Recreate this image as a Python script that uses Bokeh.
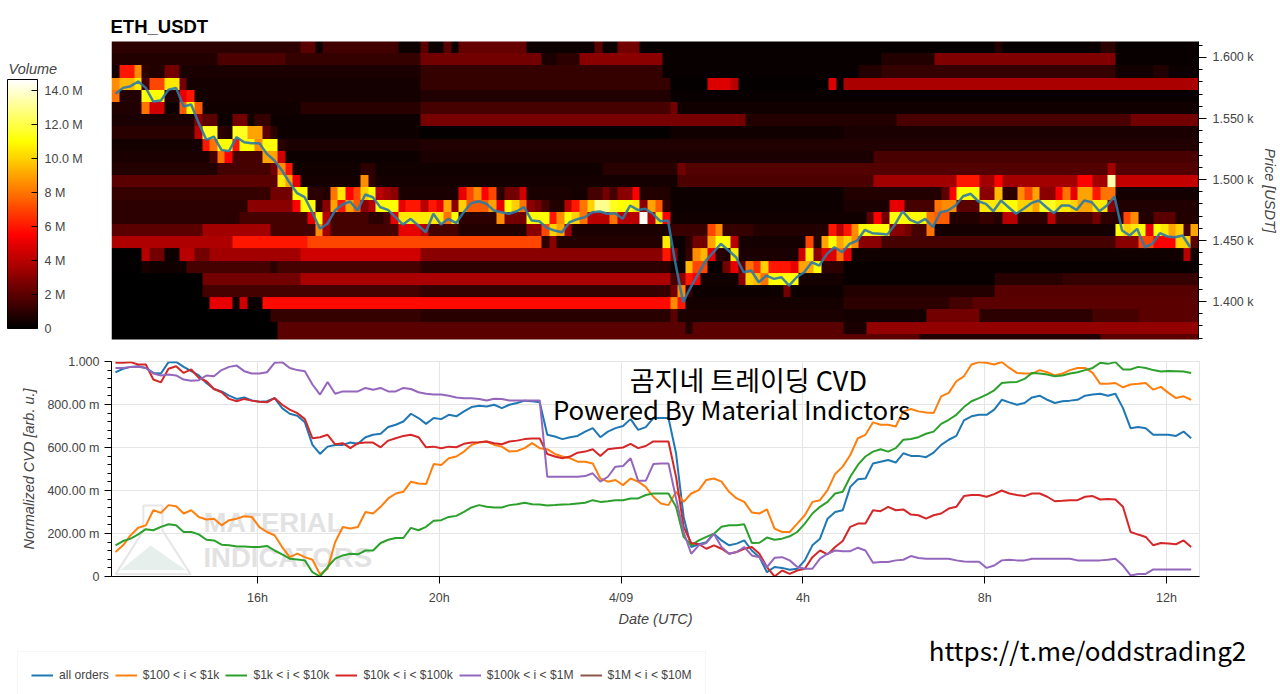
import numpy as np
from bokeh.embed import file_html
from bokeh.layouts import column, row
from bokeh.models import ColorBar, FixedTicker, Label, Legend, LegendItem, LinearColorMapper
from bokeh.plotting import figure
from bokeh.resources import INLINE

FONT = "Liberation Sans"
TEXT_COLOUR = "#444444"

# hours since 4/08 00:00
TICK_HOURS = [16, 20, 24, 28, 32, 36]
TICK_LABELS = ["16h", "20h", "4/09", "4h", "8h", "12h"]
X_START = 12.788
X_END = 36.726
FIRST_POINT = 12.876

PRICE_TICKS = [1400, 1450, 1500, 1550, 1600]
PRICE_LABELS = ["1.400 k", "1.450 k", "1.500 k", "1.550 k", "1.600 k"]
CVD_TICKS = [0, 0.2, 0.4, 0.6, 0.8, 1.0]
CVD_LABELS = ["0", "200.00 m", "400.00 m", "600.00 m", "800.00 m", "1.000"]
VOLUME_TICKS = [0, 2, 4, 6, 8, 10, 12, 14]
VOLUME_LABELS = ["0", "2 M", "4 M", "6 M", "8 M", "10.0 M", "12.0 M", "14.0 M"]

# order book volume in millions, one row per 10 USDT bin, top bin first.
# each row is a list of (first 10 minute column, volume) runs
vol_1608 = [(0, 1.0), (25, 2.0), (27, 0.3), (28, 1.4), (38, 0.3), (41, 2.0), (42, 0.3), (44, 2.0), (45, 0.3), (46, 2.2), (55, 0.3), (64, 2.0), (65, 0.3), (67, 2.5), (70, 0.2), (117, 0.8), (118, 0.2), (131, 1.0), (133, 0.2)]
vol_1598 = [(0, 0.8), (14, 1.7), (23, 1.2), (41, 2.5), (57, 0.6), (59, 1.0), (62, 3.0), (73, 0.2), (102, 0.8), (109, 2.8), (133, 0.2)]
vol_1588 = [(0, 0.5), (1, 6), (3, 8.5), (4, 1), (5, 0.8), (7, 2.5), (9, 0.6), (41, 1.2), (73, 0.2), (99, 0.8), (102, 1.2), (133, 0.4), (138, 0.8), (140, 0.3)]
vol_1578 = [(0, 8.5), (1, 9.5), (3, 10.5), (4, 1.5), (5, 7), (7, 10.5), (9, 2.5), (10, 0.5), (41, 1.2), (74, 0.15), (79, 4.8), (82, 4.0), (83, 0.15), (95, 4.8), (96, 0.1), (97, 3.7)]
vol_1568 = [(0, 8), (1, 0.8), (4, 11), (7, 0.8), (9, 5), (10, 6), (11, 0.5), (41, 0.7), (74, 0.2)]
vol_1558 = [(0, 0.7), (4, 8), (5, 4.5), (7, 0.3), (9, 7.5), (10, 10.8), (11, 7.5), (12, 0.4), (25, 0.9), (41, 1.5), (74, 2.5), (75, 0.4)]
vol_1548 = [(0, 0.6), (11, 3), (12, 2), (14, 0.3), (16, 2.5), (18, 0.5), (19, 1.2), (21, 0.3), (41, 2.6), (84, 0.8), (104, 1.6), (135, 2.5)]
vol_1538 = [(0, 0.9), (11, 4), (12, 11.5), (14, 1), (15, 0.8), (16, 11.5), (18, 9), (20, 2), (21, 1), (22, 0.3), (41, 0.15), (74, 0.4), (97, 0.6)]
vol_1528 = [(0, 0.5), (12, 6), (13, 8), (14, 11), (16, 6), (17, 11), (19, 8.5), (20, 11), (22, 1), (23, 0.6), (41, 0.7)]
vol_1518 = [(0, 0.6), (13, 1.5), (14, 8), (15, 5.5), (16, 1.5), (20, 9), (22, 4.5), (23, 0.3), (41, 0.6), (101, 1.6)]
vol_1508 = [(0, 0.8), (14, 1.5), (21, 2.5), (22, 8.5), (23, 6), (24, 0.4), (33, 1), (35, 0.4), (65, 0.9), (75, 2.5), (76, 1.8), (132, 3.5), (133, 1.8)]
vol_1498 = [(0, 2), (22, 10.5), (23, 9), (24, 5), (25, 0.5), (33, 8.5), (34, 1), (35, 0.5), (75, 1.7), (101, 3.5), (112, 6), (115, 3.5), (117, 5.5), (118, 3.5), (128, 5.5), (130, 3.5), (132, 13.5), (133, 4.2)]
vol_1488 = [(0, 1.2), (21, 2.5), (24, 11), (26, 1), (28, 0.8), (29, 8), (30, 10.5), (31, 5.5), (32, 7), (33, 10), (34, 11), (35, 4), (36, 3.5), (37, 3), (38, 0.6), (46, 5), (47, 7), (48, 8.5), (49, 5.5), (50, 7), (51, 1), (52, 2.5), (54, 4.5), (55, 0.6), (61, 0.5), (63, 1.5), (65, 2.5), (66, 1.5), (67, 3), (69, 5.5), (70, 0.8), (74, 0.3), (97, 0.8), (110, 2), (111, 5.5), (112, 11), (115, 3), (117, 9.5), (118, 1), (120, 8.5), (121, 7), (122, 9), (123, 3), (125, 5.5), (126, 8), (127, 5), (128, 9), (130, 6), (131, 8), (133, 0.5)]
vol_1478 = [(0, 1), (18, 3), (24, 5.5), (25, 11), (27, 1), (28, 3), (29, 9), (30, 6), (31, 9), (32, 7.5), (33, 3), (34, 4), (35, 11), (38, 5), (39, 6), (41, 4), (42, 6), (43, 5), (44, 9), (45, 3), (46, 10), (47, 7.5), (50, 9), (51, 5), (52, 11), (53, 10), (54, 8), (55, 3), (56, 2.5), (57, 1.5), (58, 0.8), (60, 4), (61, 6), (62, 8), (63, 10), (64, 13), (66, 11.5), (67, 11), (69, 10.5), (70, 3), (71, 9), (72, 7.5), (73, 1), (74, 0.3), (97, 0.6), (103, 5), (105, 1.5), (109, 8), (110, 8.5), (112, 2), (115, 10.5), (118, 11), (120, 10), (122, 9), (123, 11.5), (125, 10.5), (127, 10), (128, 9), (130, 10.5), (132, 3), (133, 0.7)]
vol_1468 = [(0, 1), (17, 1.5), (26, 5), (27, 11), (28, 4), (29, 1.5), (34, 1), (36, 1.5), (37, 5), (38, 10.5), (44, 8), (45, 11), (46, 1), (51, 8.5), (52, 2.5), (55, 11), (58, 6), (59, 8.5), (60, 11), (61, 10), (62, 8), (63, 4), (66, 8), (67, 4), (70, 14.5), (71, 4), (72, 10.5), (73, 5.5), (74, 0.4), (100, 2), (101, 5.5), (102, 2.5), (103, 11), (108, 8), (109, 7.5), (111, 0.8), (115, 1.2), (117, 0.8), (118, 4), (120, 1), (124, 4), (125, 1.5), (130, 2.5), (131, 1), (134, 7), (135, 8.5), (136, 0.8), (138, 2), (141, 0.8)]
vol_1458 = [(0, 2), (12, 3.5), (21, 1.5), (27, 8.5), (28, 3.5), (29, 1.5), (38, 5), (41, 4), (42, 1.5), (46, 0.8), (55, 3), (57, 7), (58, 10), (59, 9), (60, 3.5), (61, 0.6), (74, 1.3), (79, 7), (80, 8.5), (81, 1.2), (85, 0.8), (95, 6), (96, 4), (97, 6), (98, 8.5), (99, 11), (103, 3), (105, 2.5), (106, 1.5), (108, 8), (109, 0.5), (133, 11), (134, 10), (135, 10.5), (136, 11), (137, 5), (138, 11), (139, 10.5), (140, 9), (141, 10), (142, 1.5), (143, 9)]
vol_1448 = [(0, 3.8), (16, 6), (26, 7), (57, 1), (58, 3), (59, 0.8), (73, 10.5), (74, 0.3), (76, 1), (77, 2.5), (79, 9), (80, 11), (82, 4), (83, 0.5), (92, 7), (93, 0.8), (94, 9), (95, 11), (96, 9), (97, 10), (98, 8.5), (99, 3), (102, 1.5), (133, 3), (136, 7), (138, 5.5), (141, 10), (143, 2)]
vol_1438 = [(0, 0.1), (4, 4), (5, 2.5), (7, 0.3), (9, 4), (11, 2.5), (13, 3.5), (25, 4.5), (41, 3), (73, 6), (74, 3), (75, 0.3), (76, 1.2), (77, 8.5), (78, 9.5), (79, 5), (80, 1), (81, 0.7), (82, 10.5), (83, 0.6), (91, 4.5), (92, 10.5), (93, 3), (94, 4.8), (96, 8), (97, 5), (98, 0.4), (142, 4), (143, 0.4)]
vol_1428 = [(0, 0.1), (4, 0.6), (5, 0.4), (10, 1.5), (21, 1), (22, 1.5), (41, 1), (74, 0.3), (76, 9.5), (77, 7), (79, 0.2), (81, 2.5), (82, 5), (83, 2), (84, 8), (85, 6.5), (86, 10), (87, 6), (90, 5), (91, 9), (93, 11), (94, 1), (97, 0.2)]
vol_1418 = [(0, 0.05), (12, 2.5), (25, 3.7), (74, 1.5), (75, 3), (76, 6), (77, 5.5), (78, 0.4), (83, 3), (84, 10), (85, 9.5), (86, 8), (87, 11), (91, 0.5), (97, 0.2), (117, 0.9), (126, 1.2)]
vol_1408 = [(0, 0.05), (12, 1.5), (41, 1.2), (74, 2.5), (75, 8.5), (76, 1.3), (77, 0.3), (89, 2.5), (90, 0.3), (97, 0.8), (117, 1.9)]
vol_1398 = [(0, 0.05), (13, 5), (16, 0.3), (17, 4.5), (18, 0.3), (20, 5.7), (74, 8.5), (75, 6), (76, 0.5), (97, 1), (111, 1.5), (114, 2)]
vol_1388 = [(0, 0.05), (21, 1.2), (41, 0.9), (74, 2), (75, 0.6), (97, 0.5), (108, 2.5), (115, 1), (130, 1.5), (136, 2)]
vol_1378 = [(0, 0.05), (22, 2), (76, 0.8), (77, 2), (97, 0.6), (100, 3.2)]
vol_1368 = [(0, 0.05), (22, 2), (107, 0.8), (131, 2)]

VOLUME_ROWS = [
    vol_1608, vol_1598, vol_1588, vol_1578, vol_1568, vol_1558, vol_1548, vol_1538, vol_1528,
    vol_1518, vol_1508, vol_1498, vol_1488, vol_1478, vol_1468, vol_1458, vol_1448, vol_1438,
    vol_1428, vol_1418, vol_1408, vol_1398, vol_1388, vol_1378, vol_1368,
]

price = [
    1570.2, 1575.1, 1576.5, 1580.3, 1575.1, 1563.9, 1564.8, 1573.5, 1575.1, 1559.8, 1561.5, 1546.2,
    1532.5, 1535.2, 1524.3, 1523.2, 1534.7, 1530.6, 1529.8, 1529.8, 1521.0, 1515.6, 1507.4, 1497.5,
    1488.8, 1485.5, 1473.2, 1459.8, 1463.7, 1474.6, 1479.5, 1482.0, 1474.6, 1487.7, 1485.5, 1477.3,
    1475.1, 1469.1, 1463.1, 1467.8, 1462.3, 1456.8, 1471.9, 1463.1, 1467.8, 1464.2, 1473.2, 1480.6,
    1482.2, 1480.0, 1474.6, 1473.2, 1471.9, 1474.0, 1477.3, 1466.4, 1465.8, 1460.4, 1458.2, 1456.8,
    1465.0, 1467.5, 1469.1, 1473.2, 1473.8, 1471.9, 1472.4, 1467.8, 1478.7, 1475.1, 1476.0, 1471.9,
    1465.8, 1466.4, 1430.9, 1399.5, 1411.7, 1422.7, 1433.6, 1440.4, 1447.3, 1441.8, 1436.3, 1424.0,
    1425.4, 1415.8, 1421.3, 1418.6, 1419.9, 1413.1, 1419.9, 1424.0, 1432.2, 1429.5, 1439.1, 1444.5,
    1440.4, 1447.3, 1450.0, 1458.7, 1456.0, 1455.5, 1454.9, 1463.1, 1474.0, 1466.9, 1464.2, 1467.8,
    1460.9, 1473.2, 1474.6, 1478.7, 1486.3, 1488.3, 1482.2, 1480.0, 1474.0, 1482.8, 1477.3, 1471.9,
    1476.0, 1480.6, 1482.8, 1477.3, 1472.4, 1478.7, 1478.7, 1475.1, 1482.8, 1481.4, 1474.0, 1478.7,
    1486.1, 1458.2, 1454.1, 1459.6, 1444.5, 1447.3, 1456.0, 1453.3, 1452.7, 1454.1, 1444.5,
]

all_orders = [
    .95, .966, .975, .978, .97, .947, .944, .997, .998, .975, .955, .935, .90, .872, .861, .841,
    .826, .833, .819, .813, .815, .83, .783, .757, .748, .717, .612, .57, .604, .612, .612, .623,
    .617, .648, .659, .664, .695, .706, .721, .757, .737, .71, .737, .732, .752, .745, .768, .788,
    .794, .791, .799, .783, .799, .807, .818, .815, .81, .659, .651, .639, .648, .654, .674, .69,
    .648, .674, .69, .70, .732, .682, .695, .737, .737, .737, .573, .277, .137, .15, .16, .199,
    .168, .145, .153, .168, .121, .09, .02, .044, .04, .031, .036, .075, .145, .176, .269, .30,
    .308, .417, .452, .456, .526, .534, .542, .53, .573, .561, .561, .555, .576, .612, .636, .654,
    .726, .745, .752, .752, .776, .822, .81, .799, .807, .833, .841, .822, .807, .815, .818, .822,
    .841, .846, .85, .841, .85, .783, .69, .695, .69, .659, .659, .659, .654, .674, .643,
]
usd_100_1k = [
    .114, .145, .192, .227, .238, .308, .296, .332, .327, .293, .308, .277, .265, .269, .238, .262,
    .269, .28, .277, .23, .207, .192, .137, .09, .106, .09, .078, .01, .036, .16, .23, .223,
    .23, .30, .293, .324, .363, .386, .394, .441, .433, .43, .523, .519, .55, .558, .581, .612,
    .623, .628, .612, .604, .581, .584, .597, .62, .597, .592, .57, .558, .55, .534, .534, .526,
    .456, .441, .449, .425, .456, .441, .417, .371, .34, .332, .394, .347, .386, .402, .449, .456,
    .441, .394, .363, .347, .298, .293, .312, .223, .207, .207, .246, .285, .347, .355, .402, .477,
    .511, .565, .643, .659, .717, .706, .706, .698, .768, .779, .768, .763, .76, .838, .854, .908,
    .931, .986, .997, .994, .986, .998, .97, .947, .944, .944, .96, .95, .935, .944, .96, .97,
    .97, .947, .896, .897, .90, .88, .893, .896, .90, .869, .882, .854, .83, .838, .822,
]
usd_1k_10k = [
    .145, .165, .176, .196, .22, .215, .231, .243, .238, .207, .207, .196, .171, .168, .148, .145,
    .14, .14, .137, .137, .142, .121, .103, .083, .079, .075, .02, 0, .044, .083, .098, .106,
    .103, .121, .121, .156, .171, .179, .179, .226, .215, .231, .259, .262, .277, .282, .301, .321,
    .332, .324, .321, .321, .332, .336, .343, .336, .335, .33, .332, .335, .336, .34, .343, .355,
    .347, .35, .355, .355, .363, .363, .379, .386, .386, .386, .324, .184, .145, .168, .184, .199,
    .231, .238, .238, .243, .156, .157, .181, .171, .176, .187, .207, .246, .293, .324, .347, .386,
    .394, .464, .519, .558, .581, .592, .581, .597, .636, .64, .648, .664, .674, .71, .729, .752,
    .788, .815, .83, .846, .866, .90, .903, .905, .919, .947, .944, .939, .931, .935, .944, .95,
    .96, .97, .994, .989, .997, .963, .963, .975, .97, .96, .953, .956, .955, .953, .947,
]
usd_10k_100k = [
    .994, .994, .997, .986, .986, .916, .903, .966, .978, .947, .963, .924, .908, .872, .857, .826,
    .815, .826, .818, .813, .81, .83, .799, .776, .76, .732, .643, .648, .659, .615, .62, .597,
    .62, .623, .623, .601, .632, .643, .654, .659, .648, .601, .604, .597, .604, .601, .617, .623,
    .625, .628, .62, .615, .628, .632, .639, .642, .642, .57, .558, .55, .558, .576, .581, .592,
    .561, .592, .597, .60, .617, .597, .607, .628, .628, .628, .464, .231, .156, .15, .129, .145,
    .129, .106, .114, .129, .137, .106, .044, 0, .028, .012, .028, .036, .09, .121, .103, .137,
    .165, .231, .246, .246, .308, .304, .324, .308, .312, .288, .285, .269, .285, .293, .316, .324,
    .374, .379, .379, .371, .383, .40, .386, .379, .374, .386, .386, .371, .35, .352, .355, .355,
    .371, .374, .358, .36, .358, .324, .207, .195, .184, .145, .156, .153, .15, .168, .137,
]
usd_100k_1m = [
    .97, .97, .975, .975, .97, .944, .935, .939, .935, .916, .911, .913, .935, .931, .96, .975,
    .981, .955, .944, .944, .95, .994, .997, .97, .96, .955, .893, .846, .905, .85, .861, .861,
    .861, .877, .869, .877, .861, .861, .877, .872, .857, .85, .846, .846, .841, .833, .829, .829,
    .826, .819, .827, .826, .819, .819, .819, .819, .819, .464, .464, .464, .464, .464, .467, .48,
    .441, .464, .511, .514, .55, .445, .445, .523, .526, .526, .363, .207, .106, .145, .156, .199,
    .137, .106, .114, .137, .098, .09, .044, .087, .09, .075, .044, .036, .036, .083, .106, .121,
    .118, .118, .134, .121, .064, .067, .067, .075, .078, .095, .086, .083, .083, .083, .083, .075,
    .07, .069, .069, .04, .051, .075, .078, .075, .075, .083, .083, .083, .083, .083, .083, .075,
    .075, .075, .075, .078, .083, .051, .005, .012, .012, .033, .033, .033, .033, .033, .033,
]
usd_1m_10m = []

CVD_SERIES = [
    ("all orders", all_orders, "#1f77b4"),
    ("$100 < i < $1k", usd_100_1k, "#ff7f0e"),
    ("$1k < i < $10k", usd_1k_10k, "#2ca02c"),
    ("$10k < i < $100k", usd_10k_100k, "#d62728"),
    ("$100k < i < $1M", usd_100k_1m, "#9467bd"),
    ("$1M < i < $10M", usd_1m_10m, "#8c564b"),
]


def hot_palette(n=256):
    t = np.linspace(0, 1, n)
    r = np.clip(t / 0.375, 0, 1)
    g = np.clip((t - 0.375) / 0.375, 0, 1)
    b = np.clip((t - 0.75) / 0.25, 0, 1)
    return ["#%02x%02x%02x" % (int(a * 255), int(c * 255), int(d * 255)) for a, c, d in zip(r, g, b)]


MAPPER = LinearColorMapper(palette=hot_palette(), low=0, high=14.66)


def expand(runs):
    row_values = np.zeros(144)
    stops = [start for start, _ in runs[1:]] + [144]
    for (start, volume), stop in zip(runs, stops):
        row_values[start:stop] = volume
    return row_values


def style_axis(axis):
    axis.major_label_text_font = FONT
    axis.major_label_text_font_size = "12.5px"
    axis.major_label_text_color = TEXT_COLOUR
    axis.axis_label_text_font = FONT
    axis.axis_label_text_font_size = "14.5px"
    axis.axis_label_text_font_style = "italic"
    axis.axis_label_text_color = TEXT_COLOUR


def blank(width, height, x_range, y_range):
    # axis free strip, the frame fills it so annotations are not cut off
    fig = figure(
        width=width, height=height, min_border=0, frame_align=False,
        x_range=x_range, y_range=y_range,
        x_axis_location=None, y_axis_location=None,
        output_backend="svg", toolbar_location=None, tools="",
    )
    fig.grid.visible = False
    fig.outline_line_color = None
    return fig


def colour_scale():
    fig = blank(111, 347, (0, 111), (347, 0))
    bar = ColorBar(
        color_mapper=MAPPER, location=(7, 19), width=30, height=249, padding=0, margin=0,
        ticker=FixedTicker(ticks=VOLUME_TICKS),
        major_label_overrides=dict(zip(VOLUME_TICKS, VOLUME_LABELS)),
        major_label_text_font=FONT, major_label_text_font_size="12.5px",
        major_label_text_color=TEXT_COLOUR, label_standoff=7,
        major_tick_in=6, major_tick_line_color="#000000", minor_tick_line_color=None,
        bar_line_color="#000000", background_fill_color=None, border_line_color=None,
    )
    fig.add_layout(bar, "center")
    fig.add_layout(Label(
        x=8, y=68, text="Volume", text_font=FONT, text_font_size="14.5px",
        text_font_style="italic", text_color=TEXT_COLOUR, text_baseline="middle",
    ))
    return fig


def heatmap():
    fig = figure(
        width=1169, height=347, frame_align=False,
        min_border_left=0, min_border_right=81, min_border_top=41, min_border_bottom=8,
        x_range=(X_START, X_END), y_range=(1368.9, 1613.1),
        x_axis_location=None, y_axis_location="right",
        output_backend="svg", toolbar_location=None, tools="",
        title="ETH_USDT",
    )
    fig.title.text_font = FONT
    fig.title.text_font_size = "18.5px"
    fig.title.text_font_style = "bold"
    fig.title.text_color = "#000000"
    fig.title.offset = -1
    fig.title.standoff = 10
    fig.grid.visible = False
    fig.outline_line_color = None

    image = np.flipud(np.array([expand(r) for r in VOLUME_ROWS]))
    fig.image(image=[image], x=X_START, y=1363.5, dw=X_END - X_START, dh=250, color_mapper=MAPPER)

    hours = FIRST_POINT + np.arange(len(price)) / 6
    fig.line(hours, price, line_color="#2b7aa8", line_width=2.5, line_alpha=0.9)

    axis = fig.yaxis[0]
    style_axis(axis)
    axis.axis_label = "Price [USDT]"
    axis.ticker = FixedTicker(ticks=PRICE_TICKS, minor_ticks=list(range(1370, 1620, 10)))
    axis.major_label_overrides = dict(zip(PRICE_TICKS, PRICE_LABELS))
    axis.major_tick_out = 8
    axis.major_tick_in = 0
    axis.minor_tick_out = 4
    axis.minor_tick_in = 0
    axis.major_label_standoff = 6
    return fig


def cvd():
    fig = figure(
        width=1280, height=283, frame_align=False,
        min_border_left=111, min_border_right=81, min_border_top=14, min_border_bottom=54,
        x_range=(X_START, X_END), y_range=(0, 1),
        output_backend="svg", toolbar_location=None, tools="",
    )
    fig.outline_line_color = "#e5e5e5"
    fig.grid.grid_line_color = "#e5e5e5"

    # watermark behind the curves
    fig.patch(
        [13.49, 13.49, 12.88, 14.53, 13.91, 13.91], [0.33, 0.214, 0.01, 0.01, 0.214, 0.33],
        fill_color="#ffffff", fill_alpha=0, line_color="#e6e6e6", line_width=2, level="underlay",
    )
    fig.patch(
        [12.99, 13.65, 14.42], [0.03, 0.144, 0.03],
        fill_color="#e6efec", line_color=None, level="underlay",
    )
    for text, y in [("MATERIAL", 0.251), ("INDICATORS", 0.088)]:
        fig.add_layout(Label(
            x=14.81, y=y, text=text, text_font=FONT, text_font_size="27.5px",
            text_font_style="bold", text_color="#e2e2e2", text_baseline="middle", level="underlay",
        ))

    hours = FIRST_POINT + np.arange(143) / 6
    for name, values, colour in CVD_SERIES:
        fig.line(hours[:len(values)], values, line_color=colour, line_width=2)

    style_axis(fig.xaxis[0])
    style_axis(fig.yaxis[0])
    fig.xaxis.axis_label = "Date (UTC)"
    fig.yaxis.axis_label = "Normalized CVD [arb. u.]"
    fig.xaxis.axis_label_standoff = 3
    fig.yaxis.axis_label_standoff = 7
    fig.xaxis.ticker = FixedTicker(ticks=TICK_HOURS)
    fig.xaxis.major_label_overrides = dict(zip(TICK_HOURS, TICK_LABELS))
    fig.xaxis.major_tick_out = 7
    fig.xaxis.major_tick_in = 0
    fig.xaxis.major_label_standoff = 7
    fig.yaxis.ticker = FixedTicker(ticks=CVD_TICKS, minor_ticks=[round(i * 0.04, 2) for i in range(26)])
    fig.yaxis.major_label_overrides = dict(zip(CVD_TICKS, CVD_LABELS))
    fig.yaxis.major_tick_out = 7
    fig.yaxis.major_tick_in = 0
    fig.yaxis.minor_tick_out = 4
    fig.yaxis.minor_tick_in = 0

    for text, x, y, size in [
        ("곰지네 트레이딩 CVD", 26.80, 0.916, "27px"),
        ("Powered By Material Indictors", 26.43, 0.78, "25.8px"),
    ]:
        fig.add_layout(Label(
            x=x, y=y, text=text, text_font="Noto Sans CJK KR", text_font_size=size,
            text_color="#000000", text_align="center", text_baseline="middle",
        ))
    return fig


def footer():
    fig = blank(1280, 64, (0, 1280), (694, 630))
    items = []
    for name, _, colour in CVD_SERIES:
        # legend swatch only, the curves themselves are in cvd()
        r = fig.line([np.nan], [np.nan], line_color=colour, line_width=2)
        items.append(LegendItem(label=name, renderers=[r]))
    legend = Legend(
        items=items, orientation="horizontal", location=(17, -5), margin=0, padding=13,
        spacing=6, glyph_width=22, label_standoff=6, label_height=17,
        label_text_font=FONT, label_text_font_size="12.1px", label_text_color=TEXT_COLOUR,
        border_line_color="#eeeeee", background_fill_color="#ffffff",
    )
    fig.add_layout(legend, "center")
    fig.add_layout(Label(
        x=1087, y=649, text="https://t.me/oddstrading2", text_font="Noto Sans CJK KR",
        text_font_size="26px", text_color="#000000", text_align="center", text_baseline="middle",
    ))
    return fig


page = column(row(colour_scale(), heatmap(), spacing=0), cvd(), footer(), spacing=0)
open("out.html", "w").write(file_html(page, INLINE))
